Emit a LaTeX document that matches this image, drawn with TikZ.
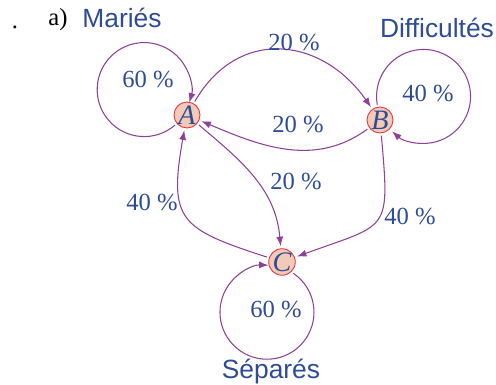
\documentclass[tikz,border=0pt]{standalone}
\usepackage{fontspec}
\setmainfont{Liberation Serif}
\setsansfont{Liberation Sans}
\usetikzlibrary{arrows.meta}

\definecolor{bleu}{HTML}{2D4B96}
\definecolor{violet}{HTML}{8F3F98}
\definecolor{saumon}{HTML}{F3C9B8}
\definecolor{rouge}{HTML}{E2343C}

\begin{document}
\begin{tikzpicture}[
  font=\fontsize{14}{16}\selectfont,
  >={Latex[length=1.9mm,width=1.4mm]},
  st/.style={circle, draw=rouge, fill=saumon, line width=0.5pt, minimum size=0.52cm, inner sep=0pt, outer sep=1.5pt, text=bleu, font=\fontsize{16}{18}\selectfont\itshape},
  pc/.style={text=bleu},
  nom/.style={text=bleu, font=\sffamily\fontsize{15}{17}\selectfont},
  fl/.style={->, draw=violet, line width=0.6pt}
]
\useasboundingbox (0,0) rectangle (9.92,7.7);
\node (pt) at (0.30,7.16) {.};
\node (qa) at (1.16,7.30) {a)};
\node[nom] (maries) at (2.44,7.34) {Mariés};
\node[nom] (diff) at (8.74,7.14) {Difficultés};
\node[nom] (sep) at (5.42,0.26) {Séparés};
\node[st] (A) at (3.74,5.40) {A};
\node[st] (B) at (7.60,5.30) {B};
\node[st] (C) at (5.64,2.46) {C};
% boucles
\draw[fl] (A.220) arc[start angle=-49, end angle=-376, radius=0.94];
\draw[fl] (B.100) arc[start angle=190, end angle=-132, radius=0.94];
\draw[fl] (C.-45) arc[start angle=56, end angle=-272, radius=0.94];
% transitions
\draw[fl] (A) to[out=60, in=125, looseness=1.25] (B);
\draw[fl] (B) to[out=216, in=-23] (A);
\draw[fl] (A) to[out=-40, in=95] (C);
\draw[fl] (C) to[out=162, in=-100, looseness=1.55] (A);
\draw[fl] (B) to[out=-85, in=20, looseness=1.7] (C);
% probabilites
\node[pc] (pAA) at (2.96,6.12) {60 \%};
\node[pc] (pAB) at (5.88,6.86) {20 \%};
\node[pc] (pBB) at (8.56,5.84) {40 \%};
\node[pc] (pBA) at (5.96,5.22) {20 \%};
\node[pc] (pAC) at (5.92,4.08) {20 \%};
\node[pc] (pCA) at (3.04,3.66) {40 \%};
\node[pc] (pBC) at (8.20,3.38) {40 \%};
\node[pc] (pCC) at (5.52,1.52) {60 \%};
\end{tikzpicture}
\end{document}
